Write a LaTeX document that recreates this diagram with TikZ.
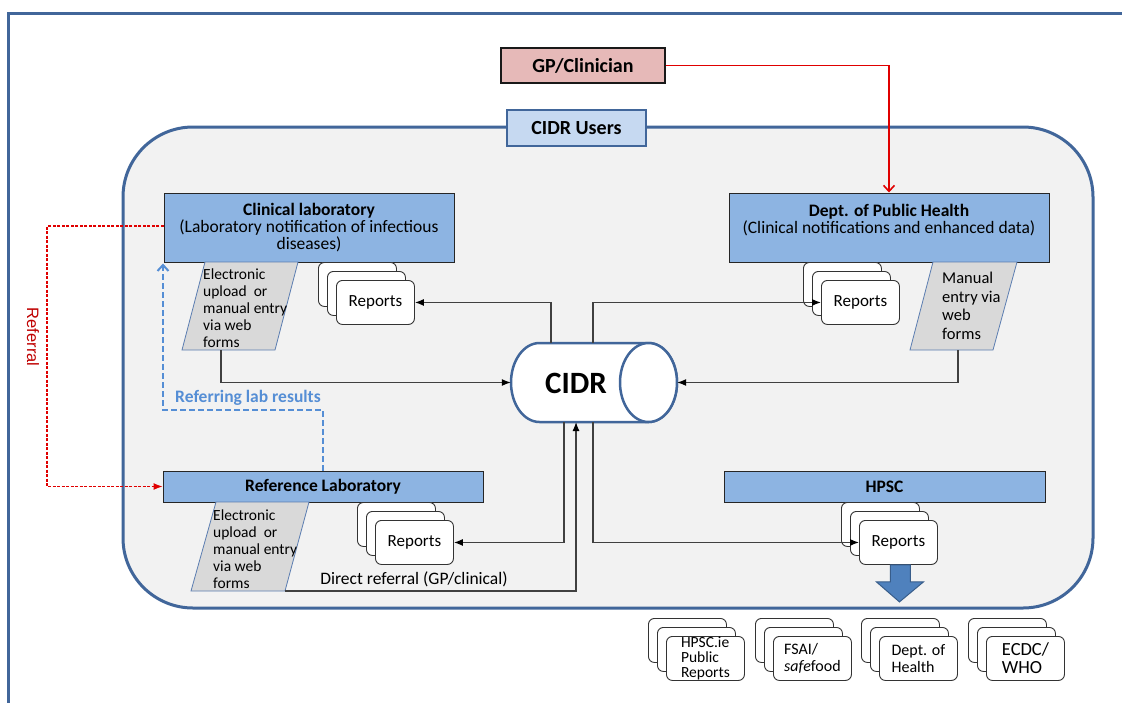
\documentclass[tikz,border=0pt]{standalone}
\usepackage{fontspec}
\setmainfont{Carlito}
\newfontfamily\arialfont{Liberation Sans}
\usetikzlibrary{arrows.meta,calc}

\definecolor{frameblue}{HTML}{41669A}
\definecolor{panelgray}{HTML}{F2F2F2}
\definecolor{boxblue}{HTML}{8DB4E2}
\definecolor{tagblue}{HTML}{C6D9F1}
\definecolor{gppink}{HTML}{E6B9B8}
\definecolor{paragray}{HTML}{D9D9D9}
\definecolor{parablue}{HTML}{5B7DB1}
\definecolor{referred}{HTML}{E00000}
\definecolor{referredtext}{HTML}{C00000}
\definecolor{labblue}{HTML}{558ED5}
\definecolor{bigarrowfill}{HTML}{4F81BD}
\definecolor{bigarrowline}{HTML}{385D8A}

\newcommand\setfs[2]{\fontsize{#1}{#2}\selectfont}

% stack of three report sheets; the front sheet carries the name and the text
\newcommand\repstack[5][]{%
  \node[rep,anchor=north west] (#2-back) at (#3,#4) {};
  \node[rep,anchor=north west,xshift=9pt,yshift=-9pt] (#2-mid) at (#3,#4) {};
  \node[rep,anchor=north west,xshift=18pt,yshift=-18pt,#1] (#2) at (#3,#4) {#5};}

\begin{document}
\begin{tikzpicture}[x=1pt,y=-1pt,
  frameline/.style={draw=frameblue,line width=3pt},
  box/.style={draw=black!85,fill=boxblue,line width=1pt,inner sep=0pt,align=center,font=\setfs{17.5}{17}},
  rep/.style={draw=black!80,fill=white,rounded corners=6pt,minimum width=78pt,minimum height=44pt,
              inner sep=0pt,line width=0.9pt,align=left,font=\setfs{17}{17}},
  para/.style={fill=paragray,draw=parablue,line width=0.8pt},
  paratext/.style={anchor=north west,inner sep=0pt,align=left,font=\setfs{15.5}{17}},
  conn/.style={draw=black!75,line width=1.2pt,-{Latex[length=9pt,width=7pt,color=black]}},
  gpline/.style={draw=referred,line width=1.6pt,-{Straight Barb[length=6pt,width=11pt]}},
  referline/.style={draw=referred,line width=1.1pt,dash pattern=on 3pt off 1.5pt,-{Latex[length=9pt,width=7pt]}},
  labline/.style={draw=labblue,line width=2pt,dash pattern=on 6pt off 3pt,-{Straight Barb[length=6pt,width=11pt]}},
  cyl/.style={draw=frameblue,line width=2.5pt,fill=white},
  bigarrow/.style={fill=bigarrowfill,draw=bigarrowline,line width=1pt}
]
\useasboundingbox (0,0) rectangle (1122,702);
\fill[white] (0,0) rectangle (1122,702);

% outer frame
\draw[frameline] (8,710) -- (8,13) -- (1130,13);

% users panel
\draw[frameline,fill=panelgray,rounded corners=70pt] (123,127) rectangle (1093,608);
\node[draw=frameblue,line width=2.5pt,fill=tagblue,minimum width=139pt,minimum height=36pt,
      inner sep=0pt,font=\bfseries\setfs{20}{20}] (users) at (576.5,128) {CIDR Users};

% GP / clinician
\node[draw=black!90,fill=gppink,line width=1.4pt,minimum width=164pt,minimum height=35pt,
      inner sep=0pt,font=\bfseries\setfs{20}{20}] (gp) at (583,65.5) {GP/Clinician};

% main boxes
\node[box,minimum width=290pt,minimum height=69pt] (clin) at (309,227.5)
  {\textbf{Clinical laboratory}\\(Laboratory notification of infectious\\diseases)};
\node[box,minimum width=320pt,minimum height=69pt] (dph) at (889,227.5)
  {\textbf{Dept. of Public Health}\\(Clinical notifications and enhanced data)\\\mbox{}};
\node[box,minimum width=320pt,minimum height=31pt] (ref) at (323,486.5) {\textbf{Reference Laboratory}};
\node[box,minimum width=321pt,minimum height=31pt] (hpsc) at (884.5,486.5) {\textbf{HPSC}};

% data-entry parallelograms
\draw[para] (205,262) -- (298,262) -- (275,350) -- (182,350) -- cycle;
\coordinate (p1b) at (221,350);
\node[paratext] (p1text) at (203,269) {Electronic\\upload\ \ or\\manual entry\\via web\\forms};

\draw[para] (933,262) -- (1017,262) -- (993,350) -- (910,350) -- cycle;
\coordinate (p2b) at (958,350);
\node[paratext,font=\setfs{16.5}{18.5}] (p2text) at (942,272) {Manual\\entry via\\web\\forms};

\draw[para] (216,502) -- (309,502) -- (285,591) -- (191,591) -- cycle;
\coordinate (p3br) at (285,591);
\node[paratext] (p3text) at (213,510) {Electronic\\upload\ \ or\\manual entry\\via web\\forms};

% report stacks
\repstack{rep1}{318}{262}{Reports}
\repstack{rep2}{803}{262}{Reports}
\repstack{rep3}{357}{502}{Reports}
\repstack{rep4}{841}{502}{Reports}

% CIDR database
\node[minimum width=166pt,minimum height=79pt,inner sep=0pt] (cidr) at (594,382.5) {};
\filldraw[cyl] (648.5,343) -- (539.5,343)
  arc[start angle=90,end angle=270,x radius=28.5pt,y radius=39.5pt] -- (648.5,422)
  arc[start angle=-90,end angle=90,x radius=28.5pt,y radius=39.5pt] -- cycle;
\draw[cyl] (648.5,382.5) ellipse[x radius=28.5pt,y radius=39.5pt];
\node[font=\bfseries\setfs{31}{31}] (cidrtext) at (576,383) {CIDR};

% connection points on the database
\coordinate (c1) at (551,343);
\coordinate (c2) at (593,343);
\coordinate (c3) at (564,422);
\coordinate (c4) at (576,422);
\coordinate (c5) at (593,422);

% flows
\draw[gpline] (gp.east) -| (dph.north);
\draw[conn] (c1) |- (rep1.east);
\draw[conn] (p1b) |- (cidr.west);
\draw[conn] (c2) |- (rep2.west);
\draw[conn] (p2b) |- (cidr.east);
\draw[conn] (c3) |- (rep3.east);
\draw[conn] (p3br) -| (c4);
\node[font=\setfs{17.5}{17},inner sep=0pt] (direct) at (414,579) {Direct referral (GP/clinical)};
\draw[conn] (c5) |- (rep4.west);

% referral between laboratories
\coordinate (rf) at (47,0);
\coordinate (rfstart) at ([yshift=1.5pt]clin.west);
\draw[referline] (rfstart) -- (rfstart -| rf) |- (ref.west);
\node[rotate=-90,text=referredtext,font=\arialfont\setfs{16.5}{18}] (referral) at (33,337) {Referral};

\coordinate (bend) at (163,410);
\draw[labline] (ref.north) |- (bend) -- ([yshift=-1pt]bend |- clin.south);
\node[text=labblue,font=\bfseries\setfs{17.5}{17},inner sep=0pt] (labres) at (248,398) {Referring lab results};

% onward reporting
\draw[bigarrow,shift={(rep4.south)}] (-8,0) -- (12,0) -- (12,17) -- (25,17) -- (1,37) -- (-22,17) -- (-8,17) -- cycle;

\repstack[font=\setfs{15.5}{15}]{outA}{648}{618}{HPSC.ie\\Public\\Reports}
\repstack[font=\setfs{16}{17}]{outB}{755}{618}{FSAI/\\\textit{safe}food}
\repstack[font=\setfs{16}{17}]{outC}{861}{618}{Dept. of\\Health}
\repstack[font=\setfs{18.5}{18}]{outD}{968}{618}{ECDC/\\WHO}
\end{tikzpicture}
\end{document}
